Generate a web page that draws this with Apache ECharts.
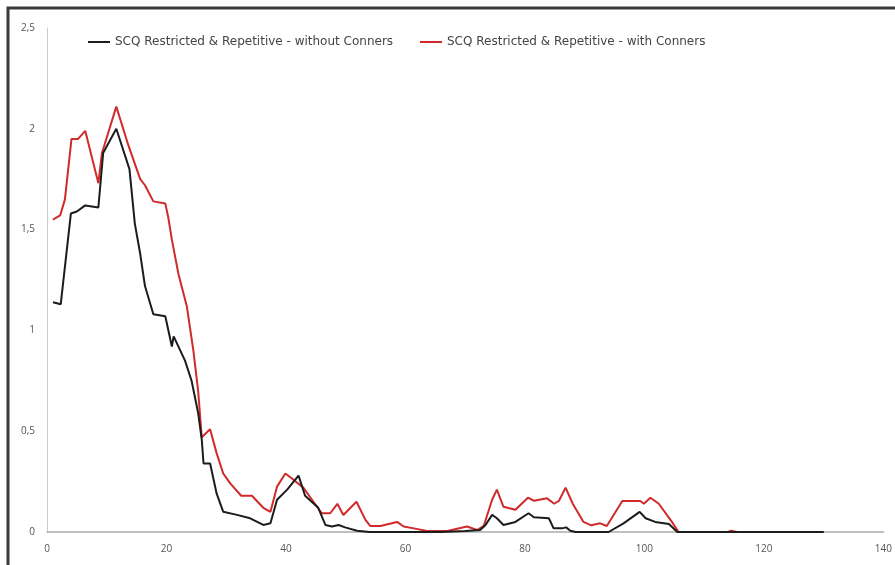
<!DOCTYPE html>
<html>
<head>
<meta charset="utf-8">
<script src="https://cdn.jsdelivr.net/npm/echarts@6/dist/echarts.min.js"></script>
<style>
html,body{margin:0;padding:0;background:#fff;}
#chart{width:895px;height:565px;}
</style>
</head>
<body>
<div id="chart"></div>
<script>
// Series names
const seriesNames = [
  'SCQ Restricted & Repetitive - without Conners',
  'SCQ Restricted & Repetitive - with Conners'
];

// "without Conners" (black) - x positions and values
const withoutX = [1,2.3,4,5,6.4,8.6,9.4,10.3,11.6,13.8,14.7,15.6,16.4,17.8,19.8,20.9,21.2,23.1,24.2,25.3,25.9,26.2,27.3,28.4,29.5,31.8,34,36.2,37.4,38.5,40.2,42.1,43.2,45.4,46.6,47.7,48.8,49.9,51.9,54,66,70,72.5,73.4,74.5,75.3,76.4,78.4,80.6,81.5,84,84.8,86.2,86.9,87.6,88.5,94,96.5,99.2,100.2,101.8,104.1,105.5,130];
const withoutY = [1.14,1.13,1.58,1.59,1.62,1.61,1.88,1.93,2.0,1.80,1.53,1.38,1.22,1.08,1.07,0.92,0.97,0.85,0.75,0.59,0.46,0.34,0.34,0.19,0.10,0.085,0.068,0.035,0.043,0.16,0.21,0.28,0.18,0.12,0.035,0.027,0.035,0.023,0.006,0,0,0.005,0.01,0.035,0.085,0.068,0.035,0.05,0.093,0.073,0.068,0.018,0.018,0.023,0.006,0,0,0.043,0.1,0.068,0.05,0.04,0,0];

// "with Conners" (red) - x positions and values
const withX = [1,2.2,3,4.1,5.2,6.4,8.6,9.2,11.6,13.6,15.6,16.4,17.8,19.8,20.3,20.9,22,23.4,24.5,25.3,25.9,27.3,28.4,29.5,30.7,32.5,34.3,36.2,37.4,38.5,39.9,41,42.9,44.6,46,47.4,48.6,49.6,51.8,53.3,54.1,55.8,58.6,59.7,61.4,63.6,67,70.3,72,73.1,74.5,75.3,76.4,78.4,80.5,81.5,83.7,84.9,85.7,86.8,88,89.8,91.1,92.6,93.7,96.3,99.3,99.9,101,102.4,104.6,105.7,114,114.5,115.5,118,118.3,119,130];
const withY = [1.55,1.57,1.65,1.95,1.95,1.99,1.73,1.88,2.11,1.92,1.75,1.72,1.64,1.63,1.56,1.45,1.28,1.12,0.90,0.70,0.47,0.51,0.39,0.29,0.24,0.18,0.18,0.12,0.10,0.225,0.29,0.265,0.22,0.15,0.093,0.093,0.14,0.084,0.15,0.06,0.03,0.03,0.05,0.027,0.018,0.005,0.005,0.027,0.01,0.03,0.16,0.21,0.125,0.11,0.17,0.155,0.167,0.14,0.155,0.22,0.14,0.05,0.033,0.043,0.03,0.154,0.154,0.14,0.17,0.14,0.05,0,0,0.006,0,0,0.005,0,0];

const xMin = 0, xMax = 140, xStep = 20;
const yMin = 0, yMax = 2.5, yStep = 0.5;

const pairs = (xs, ys) => xs.map((x, i) => [x, ys[i]]);

const chart = echarts.init(document.getElementById('chart'), null, {renderer: 'canvas'});
const labelFont = {color: '#555', fontSize: 10, fontFamily: 'Open Sans'};
const legendText = {color: '#444', fontSize: 12, fontFamily: 'DejaVu Sans'};

chart.setOption({
  animation: false,
  backgroundColor: '#fff',
  graphic: [{
    type: 'rect',
    shape: {x: 8, y: 8, width: 900, height: 600},
    style: {fill: 'none', stroke: '#3a3a3a', lineWidth: 3},
    silent: true
  }],
  grid: {left: 47, right: 7, top: 28, bottom: 33},
  legend: [
    {
      data: [seriesNames[0]], left: 83, top: 31, icon: 'rect',
      itemWidth: 22, itemHeight: 2, itemGap: 8,
      textStyle: legendText
    },
    {
      data: [seriesNames[1]], left: 415, top: 31, icon: 'rect',
      itemWidth: 22, itemHeight: 2, itemGap: 8,
      textStyle: legendText
    }
  ],
  xAxis: {
    type: 'value', min: xMin, max: xMax, interval: xStep,
    axisLine: {show: true, lineStyle: {color: '#aaa', width: 1.5}},
    axisTick: {show: false},
    splitLine: {show: false},
    axisLabel: Object.assign({margin: 12}, labelFont)
  },
  yAxis: {
    type: 'value', min: yMin, max: yMax, interval: yStep,
    axisLine: {show: true, lineStyle: {color: '#ccc', width: 1}},
    axisTick: {show: false},
    splitLine: {show: false},
    axisLabel: Object.assign({margin: 12, formatter: v => String(v).replace('.', ',')}, labelFont)
  },
  series: [
    {
      name: seriesNames[0], type: 'line', symbol: 'none',
      data: pairs(withoutX, withoutY),
      lineStyle: {color: '#1c1c1c', width: 2}, itemStyle: {color: '#1c1c1c'},
      z: 3
    },
    {
      name: seriesNames[1], type: 'line', symbol: 'none',
      data: pairs(withX, withY),
      lineStyle: {color: '#d02a2a', width: 2}, itemStyle: {color: '#d02a2a'},
      z: 2
    }
  ]
});
</script>
</body>
</html>
